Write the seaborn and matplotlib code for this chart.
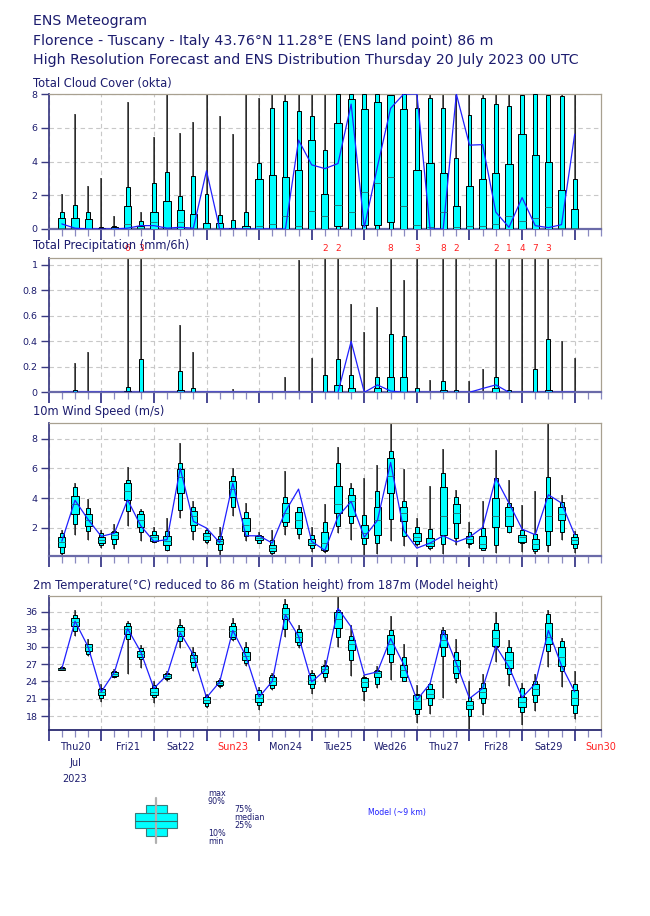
import numpy as np
import matplotlib
matplotlib.use('Agg')
import matplotlib.pyplot as plt
from matplotlib.patches import Rectangle
from matplotlib.ticker import MultipleLocator, FuncFormatter
import matplotlib.transforms as mtransforms
import seaborn as sns

# forecast steps (hours after Thu 20 Jul 2023 00 UTC)
steps = list(range(6, 246, 6))
day_names = ['Thu20', 'Fri21', 'Sat22', 'Sun23', 'Mon24', 'Tue25', 'Wed26',
             'Thu27', 'Fri28', 'Sat29', 'Sun30']
weekend = ['Sun23', 'Sun30']

# total cloud cover (okta)
cloud_min = [0] * 40
cloud_p10 = [0] * 40
cloud_p25 = [0, 0, 0, 0, 0, 0, 0, 0, 0, 0, 0, 0, 0, 0, 0, 0, 0, 0, 0, 0,
             0, 0.15, 0, 0.25, 0.25, 0.42, 0, 0, 0, 0, 0, 0, 0, 0, 0, 0, 0, 0, 0, 0]
cloud_med = [0.05, 0.05, 0.02, 0, 0, 0.32, 0.05, 0.4, 0.05, 0.4, 0.05, 0.05, 0.05, 0, 0.05, 0.15,
             0.28, 0.75, 0.2, 1.07, 0.75, 1.4, 1.0, 2.2, 2.7, 3.1, 1.39, 0.26, 0.1, 1.03, 0.1, 0.15,
             0.2, 0.32, 0.8, 0.5, 0.67, 1.29, 0.08, 0.05]
cloud_p75 = [0.67, 0.65, 0.6, 0.05, 0.1, 1.39, 0.2, 1.03, 1.66, 1.1, 0.87, 0.36, 0.38, 0.05, 0.2,
             2.99, 3.2, 3.09, 3.48, 5.3, 2.1, 6.3, 7.72, 7.09, 7.5, 7.94, 7.13, 3.52, 3.94, 3.33,
             1.39, 2.53, 2.99, 3.29, 3.88, 5.62, 4.38, 3.98, 2.3, 1.17]
cloud_p90 = [1.0, 1.43, 1.03, 0.1, 0.15, 2.46, 0.5, 2.75, 3.35, 1.98, 3.13, 2.1, 0.85, 0.53, 1.03,
             3.94, 7.15, 7.6, 7.0, 6.7, 4.7, 8, 8, 8, 8, 7.94, 8, 7.2, 7.78, 7.15, 4.18, 6.73, 7.74,
             7.4, 7.28, 7.94, 8, 7.94, 7.88, 2.99]
cloud_max = [2.06, 6.8, 2.53, 3.05, 0.75, 7.55, 1.03, 5.47, 8, 5.66, 6.34, 8, 6.7, 5.62, 8, 7.76,
             8, 8, 8, 8] + [8] * 20
cloud_model = [0.3, 0.05, 0, 0, 0, 0.05, 0.2, 0.2, 0.05, 0.1, 0.05, 3.45, 0, 0, 0, 0, 0, 0, 5.27,
               3.8, 3.58, 3.88, 7.4, 0.1, 3.7, 7.15, 8, 8, 0, 0, 8, 4.97, 5.0, 1.0, 0.1, 1.86, 0.2,
               0.08, 0.26, 5.62]

# total precipitation (mm/6h)
prec_min = [0] * 40
prec_p10 = [0] * 40
prec_p25 = [0] * 40
prec_med = [0] * 40
prec_p75 = [0, 0, 0, 0, 0, 0.01, 0, 0, 0, 0.015, 0, 0, 0, 0, 0, 0, 0, 0, 0, 0,
            0, 0.058, 0.03, 0, 0.03, 0.12, 0.12, 0, 0, 0.015, 0, 0, 0, 0.03, 0, 0, 0, 0.015, 0, 0]
prec_p90 = [0, 0.015, 0, 0, 0, 0.045, 0.26, 0, 0, 0.17, 0.03, 0, 0, 0, 0, 0, 0, 0, 0, 0,
            0.136, 0.26, 0.136, 0, 0.12, 0.46, 0.44, 0.03, 0, 0.09, 0.015, 0, 0, 0.12, 0.015, 0,
            0.18, 0.42, 0, 0]
prec_max = [0, 0.23, 0.32, 0, 0, 6, 3, 0, 0.01, 0.53, 0.32, 0, 0, 0.025, 0, 0, 0.01, 0.12, 1.04,
            0.27, 2, 2, 0.69, 0.47, 0.67, 8, 0.88, 3, 0.1, 8, 2, 0.09, 0.18, 2, 1.3, 4, 7, 3, 0.4,
            0.27]
prec_model = [0] * 22 + [0.4, 0, 0.058, 0.01, 0, 0, 0, 0, 0, 0, 0.03, 0.058, 0, 0, 0, 0, 0, 0]

# 10m wind speed (m/s)
wind_min = [0.15, 1.53, 1.2, 0.63, 0.6, 2.13, 1.08, 0.97, 0.41, 2.63, 1.2, 0.93, 0.12, 2.76, 1.08,
            0.97, 0.19, 1.53, 1.24, 0.39, 0.3, 1.64, 1.2, 0.19, 0.23, 1.08, 0.75, 0.79, 0.52, 0.25,
            0.81, 0.63, 0.48, 0.3, 1.64, 0.34, 0.25, 0.34, 1.2, 0.3]
wind_p10 = [0.3, 2.22, 1.78, 0.84, 0.93, 3.1, 1.71, 1.01, 0.52, 3.21, 1.75, 1.01, 0.52, 3.37, 1.42,
            1.0, 0.3, 2.09, 1.6, 0.63, 0.41, 2.09, 2.31, 0.93, 0.97, 2.6, 1.46, 0.93, 0.63, 0.93,
            1.31, 0.93, 0.52, 0.81, 1.69, 0.97, 0.41, 0.81, 1.69, 0.63]
wind_p25 = [0.7, 2.9, 2.13, 1.0, 1.24, 3.88, 2.02, 1.08, 0.81, 4.33, 2.18, 1.2, 0.88, 4.06, 1.75,
            1.15, 0.41, 2.38, 1.96, 0.81, 0.52, 2.98, 2.8, 1.33, 1.51, 4.33, 2.43, 1.08, 0.75, 1.53,
            2.31, 1.0, 0.66, 2.02, 2.09, 1.01, 0.59, 1.8, 2.49, 0.93]
wind_med = [1.05, 3.6, 2.54, 1.2, 1.53, 4.5, 2.5, 1.37, 1.08, 5.4, 2.76, 1.46, 1.08, 4.6, 2.2, 1.3,
            0.63, 2.98, 2.5, 1.0, 0.97, 3.61, 3.77, 1.64, 2.54, 5.45, 2.98, 1.35, 1.0, 2.76, 2.98,
            1.24, 0.93, 2.76, 2.76, 1.37, 0.93, 2.76, 2.94, 1.15]
wind_p75 = [1.35, 4.17, 2.92, 1.37, 1.69, 5.0, 2.92, 1.53, 1.46, 5.94, 3.1, 1.64, 1.26, 5.18, 2.65,
            1.42, 0.84, 3.66, 3.07, 1.24, 1.69, 4.82, 4.22, 2.18, 3.37, 6.72, 3.43, 1.64, 1.31, 4.73,
            3.59, 1.46, 1.42, 3.99, 3.37, 1.53, 1.24, 3.99, 3.37, 1.37]
wind_p90 = [1.65, 4.73, 3.32, 1.64, 1.8, 5.22, 3.14, 1.75, 1.75, 6.39, 3.43, 1.82, 1.46, 5.51, 3.03,
            1.53, 1.2, 4.1, 3.39, 1.53, 2.38, 6.34, 4.66, 2.87, 4.48, 7.17, 3.77, 2.02, 1.91, 5.67,
            4.1, 1.71, 1.96, 5.34, 3.7, 1.82, 1.57, 5.4, 3.72, 1.6]
wind_max = [1.85, 5.04, 3.95, 1.82, 2.27, 6.07, 3.25, 2.04, 2.67, 7.73, 3.81, 1.98, 2.02, 6.0, 3.7,
            1.69, 1.87, 5.8, 3.43, 2.02, 3.59, 7.46, 5.0, 5.34, 6.19, 9.5, 5.96, 2.65, 4.82, 7.28,
            4.55, 2.36, 3.81, 7.24, 5.22, 3.54, 4.5, 9.5, 4.22, 1.75]
wind_model = [1.1, 3.85, 2.55, 1.42, 1.64, 3.88, 2.13, 1.08, 1.2, 6.0, 2.43, 1.98, 1.0, 5.0, 1.46,
              1.46, 0.97, 3.1, 4.6, 1.08, 0.48, 2.76, 3.77, 1.37, 2.5, 6.39, 1.82, 0.63, 0.97, 1.46,
              1.04, 1.37, 2.02, 5.34, 3.66, 1.91, 1.53, 4.22, 3.66, 1.53]

# 2m temperature (C)
temp_min = [25.9, 31.9, 28.35, 20.5, 24.5, 25.2, 26.3, 20.35, 24.1, 29.7, 25.8, 19.4, 22.8, 30.9,
            26.7, 19.0, 22.5, 31.7, 29.7, 21.9, 23.9, 29.96, 24.95, 20.6, 22.8, 24.2, 24.0, 16.85,
            18.3, 21.05, 23.8, 15.7, 18.2, 27.3, 23.2, 16.45, 18.9, 26.5, 23.05, 17.5]
temp_p10 = [25.9, 32.7, 28.8, 21.2, 24.8, 31.4, 27.8, 21.3, 24.4, 31.05, 26.5, 19.7, 23.2, 31.4,
            27.1, 19.9, 22.8, 33.1, 30.25, 22.8, 24.8, 31.7, 27.66, 22.3, 23.5, 27.4, 24.0, 18.3,
            20.0, 28.4, 24.5, 18.05, 20.3, 29.96, 25.2, 18.75, 20.5, 29.2, 25.8, 18.6]
temp_p25 = [26.0, 33.5, 29.2, 21.6, 24.95, 32.2, 28.2, 21.6, 24.55, 31.86, 27.3, 20.2, 23.45, 31.7,
            27.7, 20.5, 23.35, 34.7, 30.8, 23.5, 25.5, 33.3, 29.4, 23.05, 24.8, 28.7, 24.8, 19.3,
            21.05, 29.96, 25.5, 19.15, 21.2, 30.1, 26.3, 19.6, 21.7, 30.5, 26.6, 19.9]
temp_med = [26.2, 34.3, 29.9, 22.1, 25.3, 33.0, 28.8, 22.2, 24.9, 32.7, 28.1, 20.8, 23.8, 32.7,
            28.4, 21.2, 24.0, 35.7, 31.7, 24.2, 26.1, 34.85, 30.4, 23.9, 25.4, 30.5, 25.9, 20.6,
            21.9, 31.1, 26.7, 19.9, 22.1, 31.5, 27.66, 20.5, 22.7, 31.7, 28.2, 21.2]
temp_p75 = [26.35, 34.97, 30.4, 22.6, 25.65, 33.6, 29.3, 22.9, 25.3, 33.4, 28.6, 21.3, 24.15, 33.6,
            29.1, 21.9, 24.8, 36.6, 32.55, 25.1, 26.6, 36.0, 31.1, 24.5, 25.8, 32.0, 26.9, 21.7,
            22.6, 32.1, 27.66, 20.6, 22.8, 32.95, 29.0, 21.3, 23.5, 34.0, 29.96, 22.5]
temp_p90 = [26.5, 35.4, 30.5, 22.8, 25.8, 34.1, 29.7, 23.35, 25.5, 33.8, 29.0, 21.7, 24.3, 34.0,
            29.9, 22.5, 25.1, 37.3, 33.1, 25.5, 26.9, 36.4, 31.86, 24.8, 26.05, 32.8, 28.2, 21.9,
            23.6, 32.8, 29.0, 21.3, 23.75, 34.0, 29.96, 22.9, 24.0, 35.7, 30.9, 23.5]
temp_max = [26.6, 36.4, 31.4, 23.5, 26.1, 34.4, 30.25, 24.0, 25.8, 34.7, 29.96, 21.9, 24.6, 35.0,
            30.8, 23.05, 25.4, 38.3, 33.8, 25.9, 27.7, 38.8, 33.7, 25.1, 26.7, 35.3, 30.5, 23.35,
            23.8, 33.4, 31.4, 24.0, 25.2, 35.9, 31.1, 23.8, 25.2, 36.3, 31.5, 25.8]
temp_model = [26.2, 34.4, 29.96, 22.2, 25.6, 33.1, 29.1, 22.8, 25.1, 32.4, 28.6, 21.2, 23.9, 32.8,
              28.35, 21.3, 24.0, 35.5, 31.8, 23.9, 25.9, 36.6, 33.4, 25.1, 25.65, 31.4, 26.9, 20.8,
              23.6, 32.7, 27.1, 21.05, 22.8, 30.1, 26.5, 21.2, 23.6, 32.8, 26.7, 22.2]

NAVY = '#1c1c6e'
CYAN = '#00ffff'
FRAME = '#a8a090'
MODEL = '#2020ff'

sns.set_theme(style='white')
plt.rcParams['font.family'] = ['DejaVu Sans']

fig = plt.figure(figsize=(6.5, 9.16), dpi=100)
W, H = 650.0, 916.0


def px_axes(top, bottom, left=48.7, right=601.0):
    return fig.add_axes([left / W, 1 - bottom / H, (right - left) / W, (bottom - top) / H])


def draw_panel(ax, mn, p10, p25, med, p75, p90, mx, model, ylim, yticks):
    t = np.array(steps, dtype=float)
    mn, p10, p25, med, p75, p90, mx = [np.array(a, dtype=float) for a in (mn, p10, p25, med, p75, p90, mx)]
    ax.vlines(t, mn, mx, color='#5a5a5a', lw=1.3, zorder=2)
    ax.vlines(t, mn, mx, color='#111111', lw=0.5, zorder=2)
    ax.bar(t, p90 - p10, bottom=p10, width=1.8, color=CYAN, edgecolor='black', lw=0.7, zorder=3)
    ax.bar(t, p75 - p25, bottom=p25, width=3.3, color=CYAN, edgecolor='black', lw=0.7, zorder=4)
    ax.hlines(med, t - 1.6, t + 1.6, color='#1f7f7f', lw=0.7, zorder=5)
    sns.lineplot(x=t, y=model, ax=ax, color=MODEL, lw=0.9, zorder=6)
    ax.set_xlim(0, 252)
    ax.set_ylim(*ylim)
    ax.set_yticks(yticks)
    ax.yaxis.set_major_formatter(FuncFormatter(lambda v, p: '%g' % round(v, 2)))
    ax.xaxis.set_major_locator(MultipleLocator(24))
    ax.xaxis.set_minor_locator(MultipleLocator(6))
    ax.set_xticklabels([])
    ax.grid(True, which='major', ls=(0, (4, 3)), color='#c8c8c8', lw=0.8, zorder=0)
    ax.set_axisbelow(True)
    for s in ('top', 'right'):
        ax.spines[s].set_color(FRAME)
        ax.spines[s].set_linewidth(0.9)
    ax.spines['left'].set_color('#3a3a82')
    ax.spines['bottom'].set_color('#6a6aa8')
    ax.spines['bottom'].set_linewidth(1.6)
    ax.tick_params(axis='y', left=True, length=6, width=1, color='#3a3a82',
                   labelsize=6.8, labelcolor=NAVY, pad=2)
    ax.tick_params(axis='x', which='major', bottom=True, length=8, width=1.2, color='#2a2a80')
    ax.tick_params(axis='x', which='minor', bottom=True, length=5, width=0.9, color='#8a8ac0')
    ax.set_xlabel('')
    ax.set_ylabel('')


# header
fig.text(33 / W, 1 - 21 / H, 'ENS Meteogram', fontsize=10.2, color=NAVY, va='center')
fig.text(33 / W, 1 - 41 / H, 'Florence - Tuscany - Italy 43.76°N 11.28°E (ENS land point) 86 m',
         fontsize=10.2, color=NAVY, va='center')
fig.text(33 / W, 1 - 60 / H,
         'High Resolution Forecast and ENS Distribution Thursday 20 July 2023 00 UTC',
         fontsize=10.2, color=NAVY, va='center')

ax1 = px_axes(94, 229)
draw_panel(ax1, cloud_min, cloud_p10, cloud_p25, cloud_med, cloud_p75, cloud_p90, cloud_max,
           cloud_model, (0, 8), [0, 2, 4, 6, 8])
fig.text(33 / W, 1 - 83 / H, 'Total Cloud Cover (okta)', fontsize=8.3, color=NAVY, va='center')

ax2 = px_axes(258.3, 392.3)
draw_panel(ax2, prec_min, prec_p10, prec_p25, prec_med, prec_p75, prec_p90, prec_max,
           prec_model, (0, 1.052), [0, 0.2, 0.4, 0.6, 0.8, 1.0])
fig.text(33 / W, 1 - 245 / H, 'Total Precipitation (mm/6h)', fontsize=8.3, color=NAVY, va='center')
trans2 = mtransforms.blended_transform_factory(ax2.transData, ax2.transAxes)
for t, v in zip(steps, prec_max):
    if v > 1.052:
        ax2.text(t, 1.075, '%d' % round(v), transform=trans2, color='#ff2020', fontsize=6.5,
                 ha='center', va='center')

ax3 = px_axes(422.7, 556)
draw_panel(ax3, wind_min, wind_p10, wind_p25, wind_med, wind_p75, wind_p90, wind_max,
           wind_model, (0.1, 9.07), [2, 4, 6, 8])
fig.text(33 / W, 1 - 411 / H, '10m Wind Speed (m/s)', fontsize=8.3, color=NAVY, va='center')

ax4 = px_axes(595.7, 730)
draw_panel(ax4, temp_min, temp_p10, temp_p25, temp_med, temp_p75, temp_p90, temp_max,
           temp_model, (15.6, 38.8), [18, 21, 24, 27, 30, 33, 36])
fig.text(33 / W, 1 - 585 / H, '2m Temperature(°C) reduced to 86 m (Station height) from 187m (Model height)',
         fontsize=8.3, color=NAVY, va='center')
ax4.spines['bottom'].set_color('#2a2a70')
ax4.spines['bottom'].set_linewidth(1.3)
trans4 = mtransforms.blended_transform_factory(ax4.transData, ax4.transAxes)
for k, name in enumerate(day_names):
    ax4.text(12 + 24 * k, -0.127, name, transform=trans4, fontsize=7,
             color='#ff2020' if name in weekend else NAVY, ha='center', va='center')
ax4.text(12, -0.246, 'Jul', transform=trans4, fontsize=7, color=NAVY, ha='center', va='center')
ax4.text(12, -0.365, '2023', transform=trans4, fontsize=7, color=NAVY, ha='center', va='center')

# legend box
lg = fig.add_axes([0, 0, 1, 1], zorder=-1)
lg.set_xlim(0, W)
lg.set_ylim(H, 0)
lg.axis('off')
lg.plot([156, 156], [798, 843], color='#b0b0b0', lw=1.6)
lg.add_patch(Rectangle((145.5, 805), 21, 31, facecolor=CYAN, edgecolor='#3a7a7a', lw=0.8))
lg.add_patch(Rectangle((135, 813), 42, 15, facecolor=CYAN, edgecolor='#3a7a7a', lw=0.8))
lg.plot([135, 177], [820.7, 820.7], color='#2a7070', lw=0.8)
for x, y, s in [(208, 794, 'max'), (208, 802, '90%'), (234, 809, '75%'), (234, 817, 'median'),
                (234, 825, '25%'), (208, 833, '10%'), (208, 841, 'min')]:
    lg.text(x, y, s, fontsize=5.8, color=NAVY, va='center', ha='left')
lg.text(368, 813, 'Model (~9 km)', fontsize=5.6, color=MODEL, va='center', ha='left')

fig.savefig('out.png', dpi=100)
